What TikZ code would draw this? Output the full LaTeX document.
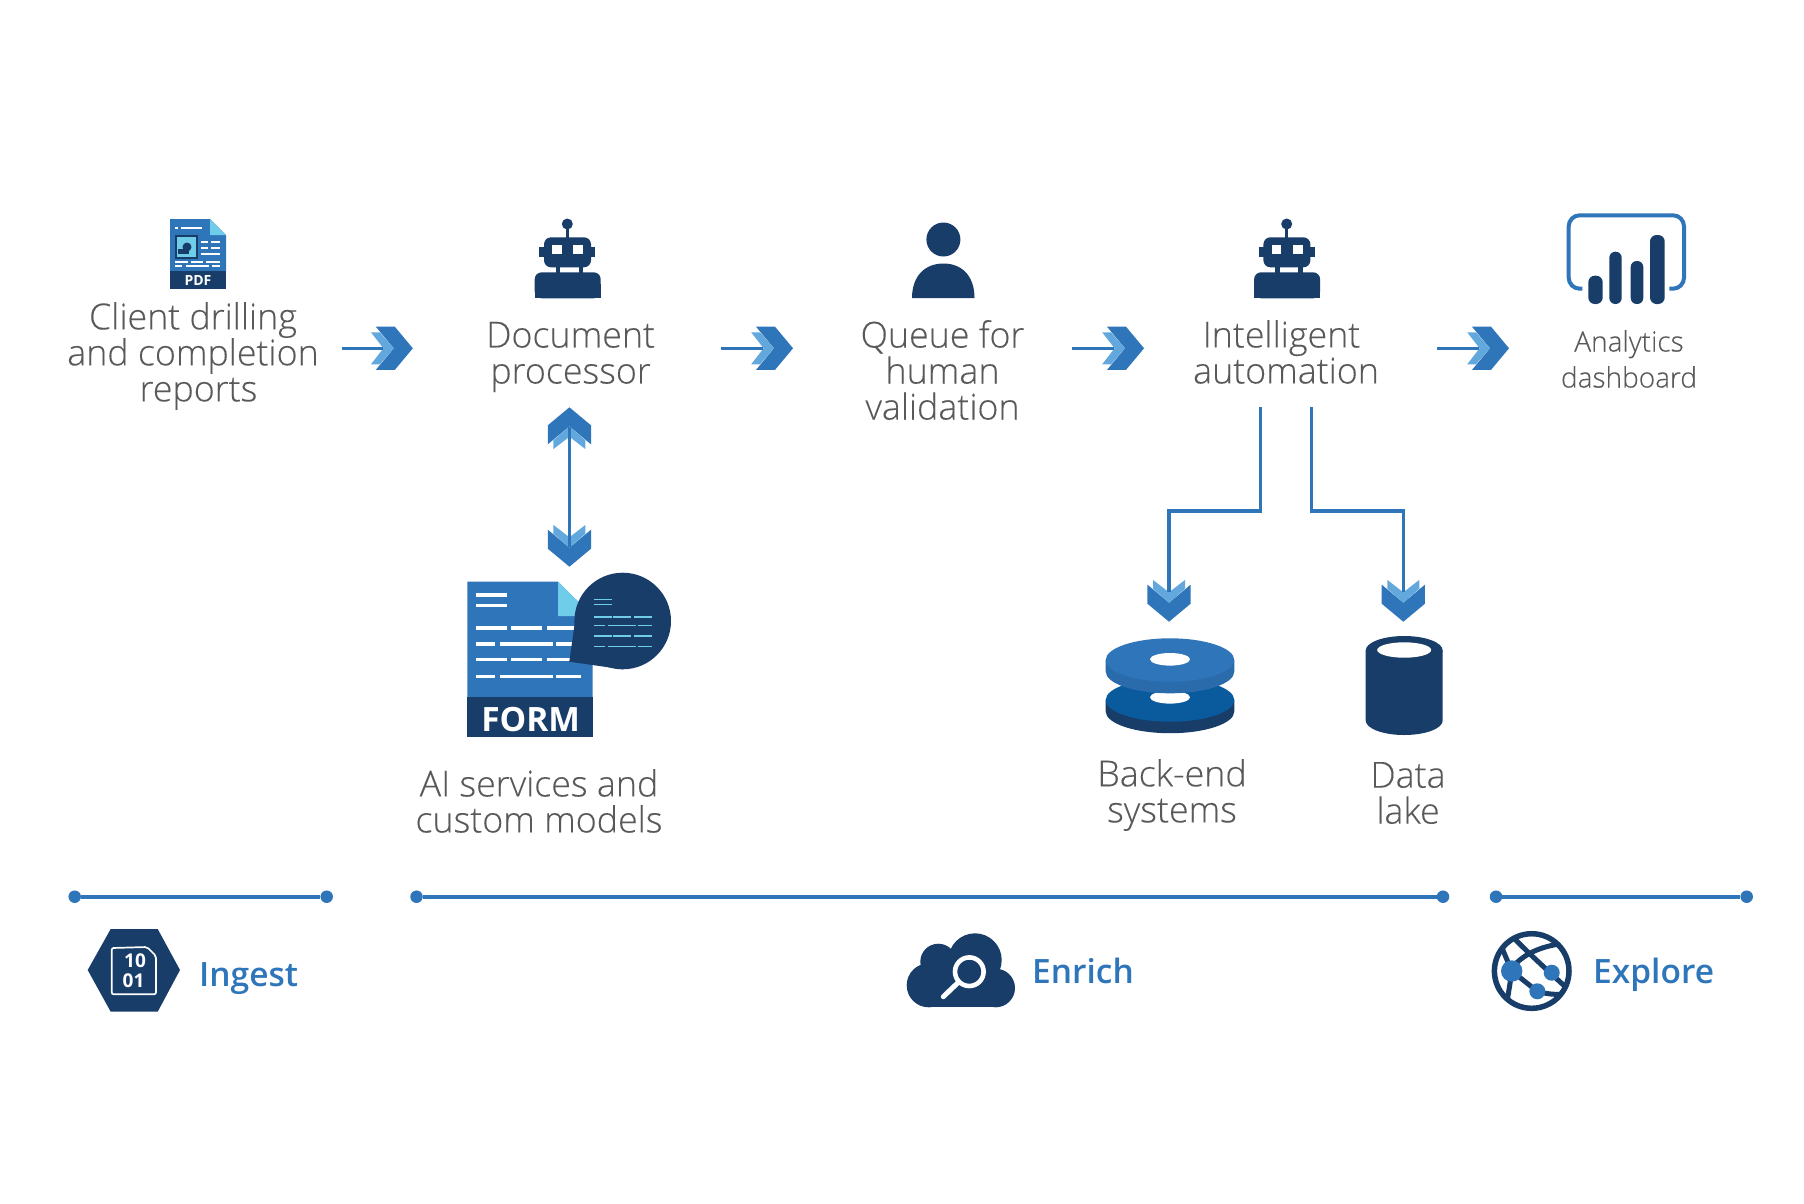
\documentclass[tikz,border=0pt]{standalone}
\usepackage{fontspec}
\setmainfont[FakeBold=0.2]{Open Sans Light}
\newfontfamily\semif{Open Sans Semibold}
\newfontfamily\boldf{Open Sans Bold}
\definecolor{bl}{HTML}{2E75BA}
\definecolor{nv}{HTML}{183D69}
\definecolor{lb}{HTML}{62A8DD}
\definecolor{cy}{HTML}{70CDEA}
\definecolor{tx}{HTML}{595959}
\definecolor{dk}{HTML}{0A5A9E}
\tikzset{
 x=1pt,y=-1pt,
 lab/.style={inner sep=0pt,align=center,text=tx,font=\fontsize{35.8}{36}\selectfont},
 labs/.style={inner sep=0pt,align=center,text=tx,font=\fontsize{28}{36}\selectfont},
 phase/.style={inner sep=0pt,anchor=base west,text=bl,font=\semif\fontsize{33.5}{36}\selectfont},
 flow/.style={draw=bl,line width=3.3pt},
 span/.style={draw=bl,line width=3.8pt},
 dot/.style={circle,fill=bl,inner sep=0pt,minimum size=12.5pt},
 wline/.style={draw=white,line width=3.2pt},
 cline/.style={draw=cy,line width=1.2pt},
 chev/.pic={
  \fill[bl] (-37,-21.6)--(-18,-21.6)--(0,0)--(-18,21.6)--(-37,21.6)--(-19,0)--cycle;
  \fill[lb] (-41.8,-16)--(-33,-16)--(-19,0)--(-33,16)--(-41.8,16)--(-29.4,0)--cycle;
 },
 robot/.pic={
  \fill[nv] (0,0) circle (5.5);
  \fill[nv] (-1.5,0) rectangle (1.5,14);
  \fill[nv,rounded corners=7] (-23.3,13.3) rectangle (23.7,43.3);
  \fill[nv] (-28,22.7) rectangle (28,32.7);
  \fill[white] (-15,20.7) rectangle (-5.6,30);
  \fill[white] (6,20.7) rectangle (16,30);
  \fill[nv] (-11.5,42) rectangle (-7,49);
  \fill[nv] (11.5,42) rectangle (16,49);
  \fill[nv,rounded corners=7] (-32.6,48.3)--(33.4,48.3)--(33.4,74.3)--(-32.6,74.3)--cycle;
  \fill[nv] (-32.6,60) rectangle (33.4,74.3);
 }
}
\begin{document}
\begin{tikzpicture}
\useasboundingbox (0,0) rectangle (1804,1203);
\fill[white] (0,0) rectangle (1804,1203);

% ---------- PDF icon
\fill[bl] (170,219)--(210,219)--(226,235)--(226,271)--(170,271)--cycle;
\fill[cy] (210,219)--(226,235)--(210,235)--cycle;
\fill[nv] (170,271) rectangle (226,289);
\fill[nv] (174.5,235) rectangle (198,259);
\fill[cy] (176.5,237) rectangle (196,257);
\fill[nv] (178,254)--(178,249)--(184,249)--(184,254)--cycle;
\fill[nv] (187,247) circle (4.5);
\fill[nv] (183,249) rectangle (189,254);
\foreach \xa/\xb/\yy in {175/178/228,181/202/228,201/208/242,211/220/242,201/208/248,211/220/248,201/220/254,175/188/262,191/203/262,206/220/262,175/182/266,186/209/266,212/220/266}
 \draw[white,line width=1.6pt] (\xa,\yy)--(\xb,\yy);
\node[inner sep=0pt,text=white,font=\boldf\fontsize{14}{14}\selectfont] (pdf) at (198,280.3) {PDF};

\node[lab] (client) at (193,356) {Client drilling\\and completion\\\hspace*{11pt}reports};

% ---------- robots
\pic at (567.3,224) {robot};
\node[lab] (docproc) at (570.6,357) {Document\\processor};
\pic at (1286.7,224) {robot};
\node[lab] (intel) at (1286,352) {Intelligent\hspace*{9pt}\\automation};

% ---------- person
\fill[nv] (943.4,239.5) circle (17);
\fill[nv] (912,298) .. controls (912,276) and (925,263.5) .. (943.4,263.5) .. controls (962,263.5) and (974.5,276) .. (974.5,298) -- cycle;
\node[lab] (queue) at (942.5,370) {Queue for\\human\\validation};

% ---------- dashboard
\draw[bl,line width=4pt,rounded corners=11pt] (1582.3,288.7)--(1568.7,288.7)--(1568.7,215.3)--(1684,215.3)--(1684,288.7)--(1669.3,288.7);
\fill[nv,rounded corners=6.5pt] (1588.3,275.7) rectangle (1602.7,304);
\fill[nv,rounded corners=6pt] (1609.3,251.7) rectangle (1621.7,304);
\fill[nv,rounded corners=6pt] (1630.7,261) rectangle (1643.3,304);
\fill[nv,rounded corners=6.5pt] (1650,235) rectangle (1664.7,304);
\node[labs] (dash) at (1629,359) {Analytics\\dashboard};

% ---------- horizontal flow arrows
\coordinate (a1s) at (341.7,348.3); \coordinate (a1e) at (412.8,348.3);
\coordinate (a2s) at (721,348.3);   \coordinate (a2e) at (793,348.3);
\coordinate (a3s) at (1072,348.3);  \coordinate (a3e) at (1144,348.3);
\coordinate (a4s) at (1437,348.3);  \coordinate (a4e) at (1509,348.3);
\foreach \n in {a1,a2,a3,a4}{
 \pic at (\n e) {chev};
 \draw[flow] (\n s)--([xshift=-30pt]\n e);
}

% ---------- vertical double arrow
\coordinate (vt) at (569.4,407.3);
\coordinate (vb) at (569.4,566.7);
\pic[rotate=90] at (vt) {chev};
\pic[rotate=-90] at (vb) {chev};
\draw[flow] (569.4,427)--(569.4,547);

% ---------- form icon
\fill[bl] (467.3,581.7)--(558,581.7)--(592.7,616)--(592.7,697.3)--(467.3,697.3)--cycle;
\fill[cy] (558,581.7)--(592.7,616)--(558,616)--cycle;
\fill[nv] (467.3,697.3) rectangle (592.7,737.3);
\foreach \xa/\xb/\yy in {476/507.3/595,476/507.3/605.7,
 476/507.3/628,511/542.3/628,547.3/580/628,
 476/495.3/644,500.3/552.7/644,556.3/580/644,
 476/507.3/659.3,511/542.3/659.3,547.3/575/659.3,
 476/495.3/676.3,500.3/552.7/676.3,556.3/580.7/676.3}
 \draw[wline] (\xa,\yy)--(\xb,\yy);
\node[inner sep=0pt,text=white,font=\boldf\fontsize{33.5}{34}\selectfont] (form) at (530.7,719.5) {FORM};
\fill[nv] (622.7,621) circle (48.3);
\fill[nv] (569.3,661.7)--(577.3,605)--(622.7,669.3)--cycle;
\foreach \xa/\xb/\yy in {594.3/612/599.7,594.3/612/604.7,
 594.3/612/617,613.3/631/617,634.3/651.7/617,
 594.3/605/625.7,608.3/636/625.7,637.7/651.7/625.7,
 594.3/612/636,613.3/631/636,634.3/651.7/636,
 594.3/605/646.3,608.3/636/646.3,637.7/651.7/646.3}
 \draw[cline] (\xa,\yy)--(\xb,\yy);
\node[lab] (ai) at (539,801) {AI services and\\custom models};

% ---------- branches
\coordinate (b1s) at (1260.6,407); \coordinate (b1e) at (1169,621.7);
\coordinate (b2s) at (1311.7,407); \coordinate (b2e) at (1403.3,621.7);
\pic[rotate=-90] at (b1e) {chev};
\pic[rotate=-90] at (b2e) {chev};
\draw[flow] (b1s)--(1260.6,511)--(1169,511)--(1169,592);
\draw[flow] (b2s)--(1311.7,511)--(1403.3,511)--(1403.3,592);

% ---------- disks
\fill[nv] (1105.7,700) -- (1105.7,711.5) arc[start angle=180,end angle=0,x radius=64.3,y radius=21.7] -- (1234.3,700) -- cycle;
\fill[dk] (1170,700) ellipse (64.3 and 21.7);
\fill[white] (1170,697.3) ellipse (20 and 6.3);
\fill[bl!92!black] (1105.7,660)--(1105.7,671.6) arc[start angle=180,end angle=0,x radius=64.3,y radius=21.7]--(1234.3,660)--cycle;
\fill[bl] (1170,660) ellipse (64.3 and 21.7);
\fill[white] (1170,659.3) ellipse (20 and 6.3);
\node[lab] (backend) at (1172,795) {Back-end\\systems};

% ---------- cylinder
\fill[nv] (1365.7,650.5)--(1365.7,720.5) arc[start angle=180,end angle=0,x radius=38.5,y radius=14.5]--(1442.7,650.5)--cycle;
\fill[nv] (1404.2,650.5) ellipse (38.5 and 14.5);
\fill[white] (1404.2,650) ellipse (27 and 7.7);
\node[lab] (lake) at (1408,793) {Data\\lake};

% ---------- spans
\node[dot] (i1) at (74.7,896.7) {};  \node[dot] (i2) at (326.7,896.7) {};
\node[dot] (e1) at (416.5,896.7) {}; \node[dot] (e2) at (1443,896.7) {};
\node[dot] (x1) at (1496,896.7) {};  \node[dot] (x2) at (1746.7,896.7) {};
\draw[span] (i1)--(i2); \draw[span] (e1)--(e2); \draw[span] (x1)--(x2);

% ---------- ingest icon
\fill[nv] (87.7,970)--(110.7,929)--(157.7,929)--(180,970)--(157.7,1011.7)--(110.7,1011.7)--cycle;
\draw[white,line width=1.7pt,rounded corners=2pt] (111.7,948)--(147,947)--(156,956)--(156,994.3)--(111.7,994.3)--cycle;
\node[inner sep=0pt,text=white,font=\boldf\fontsize{19}{20}\selectfont] (b10) at (135,960.5) {10};
\node[inner sep=0pt,text=white,font=\boldf\fontsize{19}{20}\selectfont] (b01) at (133.5,980.5) {01};
\node[phase] (ingest) at (199,986.7) {Ingest};

% ---------- enrich icon
\fill[nv] (975,960) circle (26.7);
\fill[nv] (938.3,961.7) circle (18);
\fill[nv] (928.7,985.3) circle (22);
\fill[nv] (995.7,988) circle (19.3);
\fill[nv] (928.7,966.7) rectangle (995.7,1007.3);
\draw[white,line width=4.6pt] (969.3,971.7) circle (14.3);
\draw[white,line width=5pt,line cap=round] (957.3,983.3)--(943.3,996.7);
\node[phase] (enrich) at (1032,983.3) {Enrich};

% ---------- explore icon
\draw[nv,line width=5.5pt] (1531.7,971) circle (37.3);
\begin{scope}
\clip (1531.7,971) circle (38);
\draw[nv,line width=5pt] (1511.7,968) .. controls (1525,952) and (1545,945) .. (1568,943);
\draw[nv,line width=5pt] (1511,935) .. controls (1525,950) and (1545,968) .. (1571,992);
\draw[nv,line width=5pt] (1511.7,971) -- (1537.3,991.3) .. controls (1550,995) and (1560,995) .. (1572,993);
\draw[nv,line width=5pt] (1511.7,971) .. controls (1510,985) and (1508,995) .. (1506,1008);
\draw[nv,line width=5pt] (1502,948) -- (1511.7,971);
\end{scope}
\fill[bl] (1511.7,971) circle (10.7);
\fill[bl] (1551.7,972.7) circle (8);
\fill[bl] (1537.3,991.3) circle (8);
\node[phase] (explore) at (1593,983.3) {Explore};
\end{tikzpicture}
\end{document}
